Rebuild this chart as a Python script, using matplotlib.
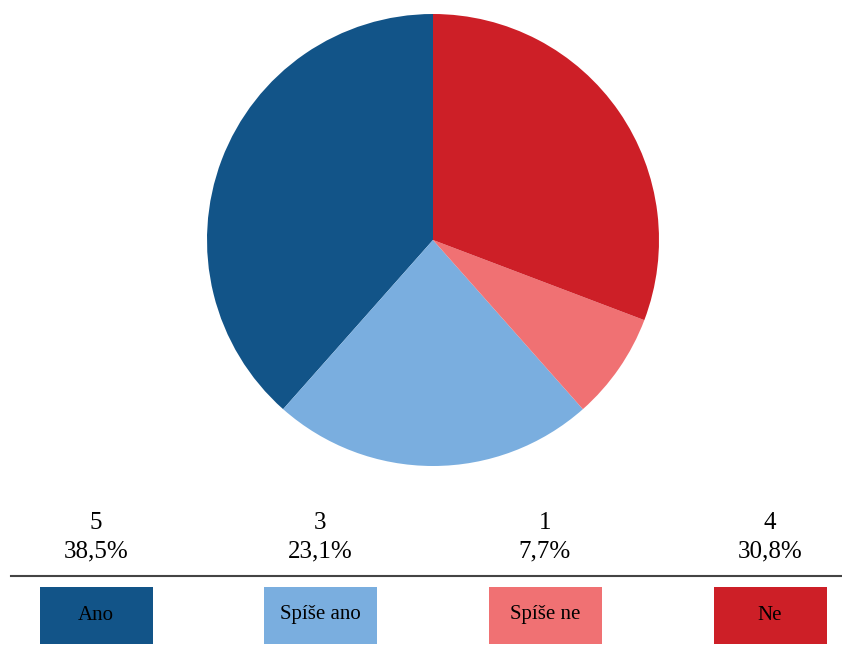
import matplotlib
matplotlib.use("Agg")
from matplotlib import pyplot as plt
from matplotlib.patches import Rectangle

labels = ["Ano", "Spíše ano", "Spíše ne", "Ne"]
counts = [5, 3, 1, 4]
percents = ["38,5%", "23,1%", "7,7%", "30,8%"]
colors = ["#125488", "#7aaedf", "#f07173", "#cd1f27"]

W, H = 842, 648
fig = plt.figure(figsize=(W / 100, H / 100), dpi=100)
plt.rcParams["font.family"] = ["Liberation Serif", "DejaVu Serif"]

# pie
cx, cy, r = 433, 240, 226
pax = fig.add_axes([(cx - r) / W, (H - cy - r) / H, 2 * r / W, 2 * r / H])
pax.pie(counts, colors=colors, startangle=90, counterclock=True, radius=1,
        wedgeprops={"linewidth": 0})
pax.set_xlim(-1, 1)
pax.set_ylim(-1, 1)
pax.set_aspect("equal")
pax.axis("off")

# table-like legend at the bottom, in pixel coords
ax = fig.add_axes([0, 0, 1, 1])
ax.set_xlim(0, W)
ax.set_ylim(H, 0)
ax.axis("off")

centers = [96, 320, 545, 770]
bw, bh = 113, 57
for i, lab in enumerate(labels):
    x = centers[i]
    ax.text(x, 523, str(counts[i]), ha="center", va="center", fontsize=18)
    ax.text(x, 551, percents[i], ha="center", va="center", fontsize=18)
    ax.add_patch(Rectangle((x - bw / 2, 587), bw, bh, facecolor=colors[i],
                           edgecolor="none"))
    ax.text(x, 615, lab, ha="center", va="center", fontsize=15)

ax.plot([11, 842], [576, 576], color="#444444", linewidth=1.5)

fig.savefig("out.png", dpi=100)
